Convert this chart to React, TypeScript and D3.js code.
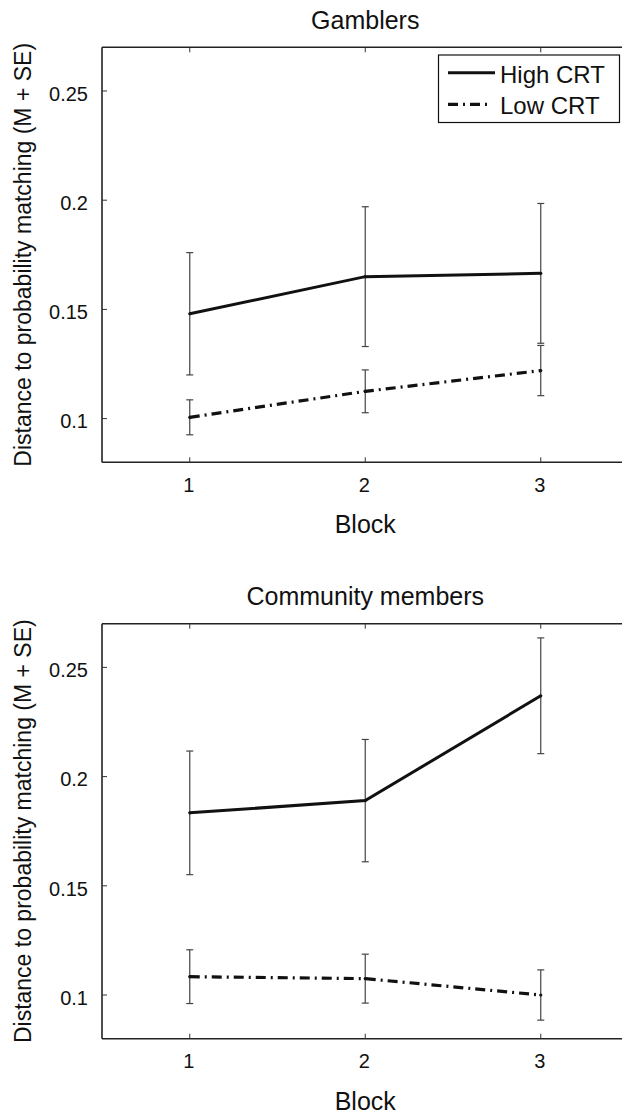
import React from 'react';
import * as d3 from 'd3';

// blocks on the x axis and the y tick values
const blocks = [1, 2, 3];
const yTicks = [0.1, 0.15, 0.2, 0.25];

// Gamblers panel, means and standard errors
const gamblersHigh = [0.148, 0.165, 0.1665];
const gamblersHighSe = [0.028, 0.032, 0.032];
const gamblersLow = [0.1006, 0.1125, 0.122];
const gamblersLowSe = [0.008, 0.0098, 0.0115];

// Community members panel
const communityHigh = [0.1834, 0.189, 0.237];
const communityHighSe = [0.0283, 0.028, 0.0265];
const communityLow = [0.1084, 0.1075, 0.1];
const communityLowSe = [0.0123, 0.0112, 0.0115];

const W = 622;
const H = 1115;
const font = "'Liberation Sans', Arial, Helvetica, sans-serif";
const plotH = 415;
const left = 102;

function Panel({ top, title, high, highSe, low, lowSe, legend }: any) {
  const x = d3.scaleLinear().domain([0.5, 3.5]).range([left, 628.5]);
  const y = d3.scaleLinear().domain([0.08, 0.27]).range([top + plotH, top]);
  const bottom = top + plotH;
  const line = d3.line<number>().x((_, i) => x(blocks[i])).y(d => y(d));
  const midY = top + plotH / 2;
  const cx = (left + 628.5) / 2;

  const errBars = (vals: number[], se: number[], key: string) =>
    vals.map((v, i) => {
      const bx = x(blocks[i]);
      const y0 = y(v - se[i]);
      const y1 = y(v + se[i]);
      return (
        <g key={key + i} stroke="#444" strokeWidth={1.2}>
          <line x1={bx} x2={bx} y1={y0} y2={y1} />
          <line x1={bx - 3.5} x2={bx + 3.5} y1={y0} y2={y0} />
          <line x1={bx - 3.5} x2={bx + 3.5} y1={y1} y2={y1} />
        </g>
      );
    });

  return (
    <g>
      <text x={cx} y={top - 18.7} textAnchor="middle" fontSize={25} fill="#111">{title}</text>

      {/* axes: left, top, bottom (no right side in the figure) */}
      <g stroke="#222" strokeWidth={1.6} fill="none">
        <line x1={left} x2={left} y1={top} y2={bottom} />
        <line x1={left} x2={W + 10} y1={top} y2={top} />
        <line x1={left} x2={W + 10} y1={bottom} y2={bottom} />
      </g>
      <g stroke="#333" strokeWidth={1}>
        {yTicks.map(t => (
          <line key={'yt' + t} x1={left} x2={left + 5} y1={y(t)} y2={y(t)} />
        ))}
        {blocks.map(b => (
          <g key={'xt' + b}>
            <line x1={x(b)} x2={x(b)} y1={top} y2={top + 5} />
            <line x1={x(b)} x2={x(b)} y1={bottom} y2={bottom - 5} />
          </g>
        ))}
      </g>
      {yTicks.map(t => (
        <text key={'yl' + t} x={88} y={y(t) + 9.7} textAnchor="end" fontSize={20} fill="#111">
          {String(t)}
        </text>
      ))}
      {blocks.map(b => (
        <text key={'xl' + b} x={x(b) - 1} y={bottom + 29.5} textAnchor="middle" fontSize={20} fill="#111">
          {b}
        </text>
      ))}
      <text x={cx} y={bottom + 71} textAnchor="middle" fontSize={25} fill="#111">Block</text>
      <text
        transform={`translate(31,${midY}) rotate(-90)`}
        textAnchor="middle"
        fontSize={23}
        fill="#111"
      >
        Distance to probability matching (M + SE)
      </text>

      {errBars(high, highSe, 'h')}
      {errBars(low, lowSe, 'l')}

      <path d={line(high) || ''} fill="none" stroke="#111" strokeWidth={3} />
      <path d={line(low) || ''} fill="none" stroke="#111" strokeWidth={3.2} strokeDasharray="10,5,2,5" />
      {high.concat(low).map((v: number, i: number) => (
        <circle key={'p' + i} cx={x(blocks[i % 3])} cy={y(v)} r={1.6} fill="#111" />
      ))}

      {legend && (
        <g>
          <rect x={438.5} y={top + 7.7} width={181} height={67.5} fill="#fff" stroke="#111" strokeWidth={1.2} />
          <line x1={448} x2={495} y1={top + 25.4} y2={top + 25.4} stroke="#111" strokeWidth={3} />
          <line x1={448} x2={490} y1={top + 57} y2={top + 57} stroke="#111" strokeWidth={3.2} strokeDasharray="10,5,2,5" />
          <text x={500} y={top + 35.4} fontSize={24} fill="#111">High CRT</text>
          <text x={500} y={top + 67} fontSize={24} fill="#111">Low CRT</text>
        </g>
      )}
    </g>
  );
}

export default function App() {
  return (
    <svg
      width={W}
      height={H}
      style={{ position: 'absolute', left: 0, top: 0, background: '#fff' }}
      fontFamily={font}
    >
      <rect width={W} height={H} fill="#fff" />
      <Panel
        top={47.3}
        title="Gamblers"
        high={gamblersHigh}
        highSe={gamblersHighSe}
        low={gamblersLow}
        lowSe={gamblersLowSe}
        legend
      />
      <Panel
        top={623.7}
        title="Community members"
        high={communityHigh}
        highSe={communityHighSe}
        low={communityLow}
        lowSe={communityLowSe}
      />
    </svg>
  );
}
